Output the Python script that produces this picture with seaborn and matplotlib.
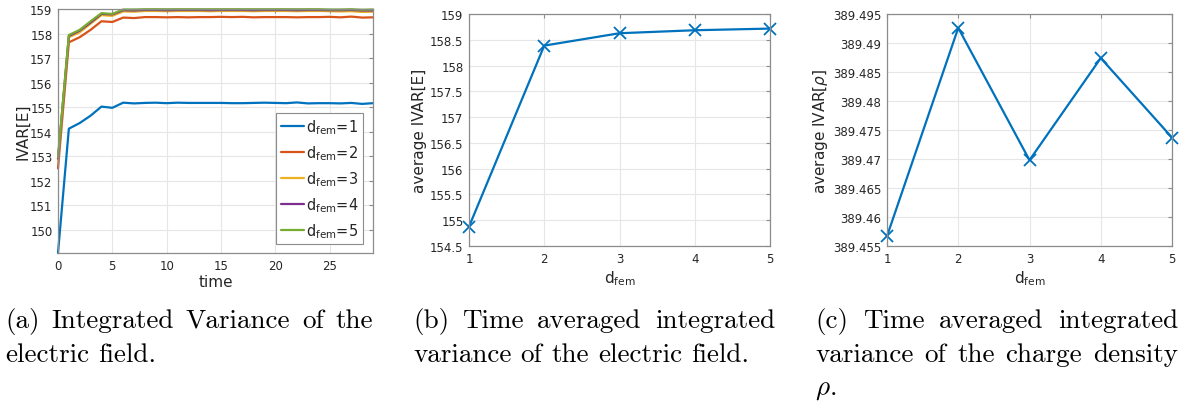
import numpy as np
import pandas as pd
import matplotlib
matplotlib.use("Agg")
import matplotlib.pyplot as plt
from matplotlib.ticker import FuncFormatter, MultipleLocator
import seaborn as sns

# ---- data -------------------------------------------------------------
time = list(range(30))

ivar_d1 = [149.05, 154.12, 154.35, 154.65, 155.02, 154.97, 155.18, 155.15, 155.17, 155.18,
           155.16, 155.18, 155.17, 155.17, 155.17, 155.17, 155.16, 155.16, 155.17, 155.18,
           155.17, 155.16, 155.19, 155.15, 155.16, 155.16, 155.15, 155.17, 155.13, 155.16]
ivar_d2 = [152.50, 157.64, 157.85, 158.15, 158.50, 158.47, 158.65, 158.63, 158.67, 158.67,
           158.66, 158.67, 158.66, 158.67, 158.67, 158.68, 158.67, 158.68, 158.66, 158.67,
           158.67, 158.67, 158.66, 158.67, 158.67, 158.68, 158.66, 158.69, 158.65, 158.66]
ivar_d3 = [152.85, 157.85, 158.05, 158.40, 158.75, 158.72, 158.90, 158.89, 158.92, 158.92,
           158.91, 158.92, 158.92, 158.92, 158.91, 158.92, 158.92, 158.92, 158.91, 158.92,
           158.92, 158.92, 158.91, 158.92, 158.92, 158.91, 158.90, 158.91, 158.88, 158.89]
ivar_d4 = [152.90, 157.90, 158.12, 158.45, 158.80, 158.78, 158.95, 158.94, 158.96, 158.96,
           158.95, 158.96, 158.96, 158.96, 158.95, 158.96, 158.96, 158.96, 158.95, 158.96,
           158.96, 158.96, 158.95, 158.96, 158.96, 158.95, 158.95, 158.96, 158.94, 158.94]
ivar_d5 = [152.95, 157.94, 158.15, 158.50, 158.83, 158.80, 158.98, 158.98, 158.99, 158.99,
           158.99, 158.99, 158.99, 158.99, 158.99, 158.99, 158.99, 158.99, 158.99, 158.99,
           158.99, 158.99, 158.99, 158.99, 158.99, 158.98, 158.98, 158.99, 158.97, 158.98]

dfem = [1, 2, 3, 4, 5]
avg_ivar_E = [154.875, 158.387, 158.627, 158.685, 158.717]
avg_ivar_rho = [389.4567, 389.4926, 389.4698, 389.4874, 389.4737]

series_labels = [r"d$_{\mathrm{fem}}$=1", r"d$_{\mathrm{fem}}$=2", r"d$_{\mathrm{fem}}$=3",
                 r"d$_{\mathrm{fem}}$=4", r"d$_{\mathrm{fem}}$=5"]
line_colors = ["#0072BD", "#D95319", "#EDB120", "#7E2F8E", "#77AC30"]

# ---- style ------------------------------------------------------------
sns.set_style("whitegrid")
plt.rcParams["font.family"] = ["DejaVu Sans"]
SPINE = "#8c8c8c"
TXT = "#262626"
GRID = "#e6e6e6"
TICK_SIZE = 8.5
LABEL_SIZE = 11

W, H = 1191, 406
fig = plt.figure(figsize=(W / 100, H / 100), dpi=100)


def box(left, top, right, bottom):
    return [left / W, 1 - bottom / H, (right - left) / W, (bottom - top) / H]


def style_axes(ax):
    for s in ax.spines.values():
        s.set_color(SPINE)
        s.set_linewidth(0.9)
        s.set_visible(True)
    ax.tick_params(direction="in", length=3, width=0.8, color=SPINE,
                   labelsize=TICK_SIZE, labelcolor=TXT, top=True, right=True,
                   labeltop=False, labelright=False, pad=4)
    ax.grid(True, color=GRID, linewidth=0.8)
    ax.set_axisbelow(True)


def trim(v, nd):
    return f"{v:.{nd}f}".rstrip("0").rstrip(".")


# ---- (a) integrated variance over time ----------------------------------
ax1 = fig.add_axes(box(58, 10, 373, 254))
long = pd.DataFrame({
    "time": time * 5,
    "ivar": ivar_d1 + ivar_d2 + ivar_d3 + ivar_d4 + ivar_d5,
    "series": sum([[lab] * len(time) for lab in series_labels], []),
})
sns.lineplot(data=long, x="time", y="ivar", hue="series", hue_order=series_labels,
             palette=line_colors, linewidth=1.6, ax=ax1, legend=False)
for ln in ax1.get_lines():
    ln.set_clip_on(False)
ax1.set_xlim(0, 29)
ax1.set_ylim(149.05, 159)
ax1.xaxis.set_major_locator(MultipleLocator(5))
ax1.yaxis.set_major_locator(MultipleLocator(1))
ax1.set_xlabel("time", fontsize=LABEL_SIZE, color=TXT, labelpad=2)
ax1.set_ylabel("IVAR[E]", fontsize=LABEL_SIZE, color=TXT, labelpad=0)
style_axes(ax1)
handles = ax1.get_lines()[:5]
leg = ax1.legend(handles, series_labels, loc="lower right",
                 bbox_to_anchor=(0.968, 0.036), fontsize=10.5, frameon=True,
                 fancybox=False, framealpha=1, edgecolor=SPINE,
                 handlelength=1.6, handletextpad=0.15, labelspacing=0.5,
                 borderpad=0.3, borderaxespad=0)
leg.get_frame().set_linewidth(0.8)

# ---- (b) time averaged IVAR of E ---------------------------------------
ax2 = fig.add_axes(box(469, 15, 770, 247))
sns.lineplot(x=dfem, y=avg_ivar_E, color=line_colors[0], linewidth=1.6, marker="x",
             markersize=8, markeredgewidth=1.3, markeredgecolor=line_colors[0],
             clip_on=False, ax=ax2)
ax2.set_xlim(1, 5)
ax2.set_ylim(154.5, 159)
ax2.xaxis.set_major_locator(MultipleLocator(1))
ax2.yaxis.set_major_locator(MultipleLocator(0.5))
ax2.yaxis.set_major_formatter(FuncFormatter(lambda v, p: trim(v, 1)))
ax2.set_xlabel(r"d$_{\mathrm{fem}}$", fontsize=LABEL_SIZE, color=TXT, labelpad=3)
ax2.set_ylabel("average IVAR[E]", fontsize=LABEL_SIZE, color=TXT, labelpad=2)
style_axes(ax2)

# ---- (c) time averaged IVAR of rho -------------------------------------
ax3 = fig.add_axes(box(887, 15, 1172, 247))
sns.lineplot(x=dfem, y=avg_ivar_rho, color=line_colors[0], linewidth=1.6, marker="x",
             markersize=8, markeredgewidth=1.3, markeredgecolor=line_colors[0],
             clip_on=False, ax=ax3)
ax3.set_xlim(1, 5)
ax3.set_ylim(389.455, 389.495)
ax3.xaxis.set_major_locator(MultipleLocator(1))
ax3.yaxis.set_major_locator(MultipleLocator(0.005))
ax3.yaxis.set_major_formatter(FuncFormatter(lambda v, p: trim(v, 3)))
ax3.set_xlabel(r"d$_{\mathrm{fem}}$", fontsize=LABEL_SIZE, color=TXT, labelpad=3)
ax3.set_ylabel(r"average IVAR[$\rho$]", fontsize=LABEL_SIZE, color=TXT, labelpad=2)
style_axes(ax3)

# ---- sub-captions (justified lines in a serif face) --------------------
CAP_SIZE = 19.5
renderer = fig.canvas.get_renderer()


def caption_line(words, x0, x1, baseline, justify=True):
    texts = []
    for w in words:
        t = fig.text(0, 1 - baseline / H, w, fontsize=CAP_SIZE, family="cmr10",
                     math_fontfamily="cm", color="black", va="baseline", ha="left")
        texts.append(t)
    widths = [t.get_window_extent(renderer).width for t in texts]
    if justify and len(words) > 1:
        gap = (x1 - x0 - sum(widths)) / (len(words) - 1)
    else:
        gap = CAP_SIZE * 1.389 * 0.333
    x = x0
    for t, w in zip(texts, widths):
        t.set_x(x / W)
        x += w + gap


caption_line("(a) Integrated Variance of the".split(), 5, 373, 328)
caption_line("electric field.".split(), 5, 373, 362, justify=False)
caption_line("(b) Time averaged integrated".split(), 413, 775, 328)
caption_line("variance of the electric field.".split(), 413, 775, 362, justify=False)
caption_line("(c) Time averaged integrated".split(), 815, 1178, 328)
caption_line("variance of the charge density".split(), 815, 1178, 362)
caption_line([r"$\rho$."], 815, 1178, 395, justify=False)

fig.savefig("out.png", dpi=100)
